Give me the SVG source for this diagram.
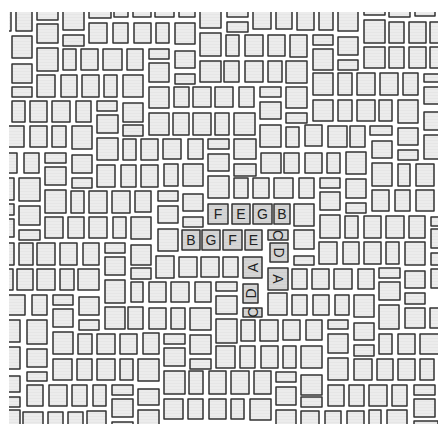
<svg xmlns="http://www.w3.org/2000/svg" width="438" height="424" viewBox="0 0 438 424">
<defs>
<pattern id="hatch" width="7" height="3" patternUnits="userSpaceOnUse"><rect width="7" height="3" fill="#ececec"/><rect y="2" width="7" height="1" fill="#e6e6e6"/></pattern>
<pattern id="hatchd" width="7" height="3" patternUnits="userSpaceOnUse"><rect width="7" height="3" fill="#d5d5d5"/><rect y="2" width="7" height="1" fill="#cfcfcf"/></pattern>
<clipPath id="clip"><rect x="9" y="12" width="429" height="412"/></clipPath>
</defs>
<style>
rect.b{fill:url(#hatch);stroke:#333;stroke-width:1.5;stroke-linejoin:round}
rect.l{fill:url(#hatchd);stroke:#333;stroke-width:1.5;stroke-linejoin:round}
text{font-family:"Liberation Sans",Arial,sans-serif;font-size:14px;fill:#222;text-anchor:middle;dominant-baseline:central}
</style>
<rect width="438" height="424" fill="#ffffff"/>
<g clip-path="url(#clip)">
<g id="tiles">
<rect class="b" x="3" y="6" width="8" height="25"/><rect class="b" x="16" y="6" width="16" height="25"/><rect class="b" x="37" y="6" width="21" height="14"/><rect class="b" x="63" y="6" width="21" height="24"/><rect class="b" x="89" y="6" width="22" height="12"/><rect class="b" x="114" y="6" width="14" height="11"/><rect class="b" x="133" y="6" width="18" height="11"/>
<rect class="b" x="37" y="24" width="21" height="19"/><rect class="b" x="63" y="35" width="21" height="11"/><rect class="b" x="89" y="23" width="18" height="20"/><rect class="b" x="113" y="23" width="15" height="20"/><rect class="b" x="134" y="23" width="17" height="20"/><rect class="b" x="12" y="36" width="20" height="22"/>
<rect class="b" x="37" y="48" width="21" height="23"/><rect class="b" x="63" y="49" width="13" height="21"/><rect class="b" x="81" y="49" width="17" height="21"/><rect class="b" x="103" y="49" width="19" height="21"/><rect class="b" x="127" y="49" width="16" height="21"/><rect class="b" x="12" y="64" width="20" height="19"/>
<rect class="b" x="12" y="87" width="20" height="10"/><rect class="b" x="37" y="75" width="18" height="22"/><rect class="b" x="61" y="75" width="16" height="22"/><rect class="b" x="82" y="75" width="17" height="22"/><rect class="b" x="104" y="75" width="13" height="22"/><rect class="b" x="123" y="75" width="20" height="22"/>
<rect class="b" x="12" y="101" width="13" height="21"/><rect class="b" x="30" y="101" width="17" height="21"/><rect class="b" x="52" y="101" width="18" height="21"/><rect class="b" x="76" y="101" width="15" height="21"/><rect class="b" x="97" y="101" width="20" height="10"/><rect class="b" x="97" y="115" width="21" height="18"/><rect class="b" x="123" y="103" width="20" height="19"/>
<rect class="b" x="3" y="126" width="21" height="21"/><rect class="b" x="30" y="126" width="17" height="21"/><rect class="b" x="52" y="126" width="14" height="21"/><rect class="b" x="72" y="126" width="20" height="23"/><rect class="b" x="123" y="125" width="20" height="11"/><rect class="b" x="97" y="138" width="21" height="22"/><rect class="b" x="123" y="139" width="13" height="21"/><rect class="b" x="141" y="139" width="17" height="21"/>
<rect class="b" x="155" y="6" width="19" height="11"/><rect class="b" x="179" y="6" width="16" height="11"/><rect class="b" x="200" y="6" width="21" height="22"/><rect class="b" x="227" y="6" width="21" height="11"/><rect class="b" x="227" y="22" width="21" height="10"/><rect class="b" x="253" y="6" width="18" height="23"/><rect class="b" x="276" y="6" width="16" height="23"/>
<rect class="b" x="156" y="23" width="13" height="20"/><rect class="b" x="175" y="23" width="20" height="21"/><rect class="b" x="200" y="33" width="21" height="23"/><rect class="b" x="226" y="35" width="13" height="21"/><rect class="b" x="245" y="35" width="18" height="21"/><rect class="b" x="268" y="35" width="17" height="21"/><rect class="b" x="290" y="35" width="17" height="22"/>
<rect class="b" x="149" y="49" width="20" height="10"/><rect class="b" x="149" y="63" width="20" height="19"/><rect class="b" x="175" y="51" width="20" height="17"/><rect class="b" x="175" y="74" width="20" height="10"/><rect class="b" x="200" y="61" width="21" height="21"/><rect class="b" x="224" y="61" width="15" height="21"/><rect class="b" x="245" y="61" width="18" height="21"/><rect class="b" x="268" y="61" width="14" height="21"/><rect class="b" x="286" y="61" width="21" height="22"/>
<rect class="b" x="149" y="87" width="20" height="21"/><rect class="b" x="174" y="87" width="15" height="20"/><rect class="b" x="193" y="87" width="18" height="20"/><rect class="b" x="215" y="87" width="18" height="20"/><rect class="b" x="239" y="87" width="15" height="20"/><rect class="b" x="260" y="87" width="21" height="10"/><rect class="b" x="260" y="102" width="21" height="17"/><rect class="b" x="286" y="87" width="21" height="21"/>
<rect class="b" x="149" y="113" width="20" height="22"/><rect class="b" x="173" y="113" width="16" height="22"/><rect class="b" x="193" y="113" width="18" height="22"/><rect class="b" x="215" y="113" width="14" height="22"/><rect class="b" x="234" y="113" width="21" height="22"/><rect class="b" x="260" y="125" width="21" height="22"/><rect class="b" x="286" y="113" width="21" height="10"/><rect class="b" x="286" y="127" width="13" height="20"/>
<rect class="b" x="297" y="6" width="17" height="24"/><rect class="b" x="319" y="6" width="14" height="24"/><rect class="b" x="338" y="6" width="20" height="25"/><rect class="b" x="364" y="6" width="21" height="9"/><rect class="b" x="389" y="6" width="21" height="11"/><rect class="b" x="415" y="6" width="20" height="10"/>
<rect class="b" x="313" y="35" width="20" height="10"/><rect class="b" x="313" y="49" width="20" height="21"/><rect class="b" x="338" y="37" width="20" height="18"/><rect class="b" x="338" y="60" width="20" height="10"/><rect class="b" x="364" y="20" width="21" height="23"/><rect class="b" x="389" y="22" width="15" height="21"/><rect class="b" x="409" y="22" width="17" height="21"/><rect class="b" x="430" y="22" width="12" height="21"/>
<rect class="b" x="364" y="47" width="21" height="21"/><rect class="b" x="389" y="47" width="15" height="21"/><rect class="b" x="409" y="47" width="17" height="21"/><rect class="b" x="430" y="47" width="12" height="21"/>
<rect class="b" x="313" y="73" width="20" height="22"/><rect class="b" x="338" y="73" width="14" height="22"/><rect class="b" x="357" y="73" width="18" height="22"/><rect class="b" x="380" y="73" width="18" height="22"/><rect class="b" x="403" y="73" width="15" height="22"/><rect class="b" x="424" y="74" width="18" height="8"/><rect class="b" x="424" y="87" width="18" height="17"/>
<rect class="b" x="313" y="100" width="20" height="21"/><rect class="b" x="338" y="100" width="14" height="21"/><rect class="b" x="357" y="100" width="18" height="21"/><rect class="b" x="379" y="100" width="13" height="21"/><rect class="b" x="398" y="100" width="20" height="23"/><rect class="b" x="424" y="112" width="18" height="18"/>
<rect class="b" x="305" y="125" width="17" height="21"/><rect class="b" x="328" y="126" width="19" height="21"/><rect class="b" x="350" y="126" width="15" height="21"/><rect class="b" x="370" y="126" width="22" height="9"/><rect class="b" x="372" y="141" width="20" height="17"/><rect class="b" x="398" y="128" width="20" height="17"/><rect class="b" x="424" y="135" width="18" height="24"/>
<rect class="b" x="305" y="153" width="17" height="20"/><rect class="b" x="327" y="153" width="13" height="20"/><rect class="b" x="346" y="152" width="20" height="22"/><rect class="b" x="372" y="163" width="20" height="23"/><rect class="b" x="398" y="150" width="20" height="10"/><rect class="b" x="398" y="164" width="12" height="22"/><rect class="b" x="416" y="164" width="18" height="22"/>
<rect class="b" x="299" y="178" width="15" height="20"/><rect class="b" x="320" y="178" width="20" height="10"/><rect class="b" x="320" y="192" width="20" height="18"/><rect class="b" x="346" y="179" width="20" height="19"/><rect class="b" x="346" y="203" width="20" height="10"/><rect class="b" x="372" y="190" width="17" height="21"/><rect class="b" x="395" y="190" width="15" height="21"/><rect class="b" x="416" y="190" width="18" height="21"/>
<rect class="b" x="294" y="204" width="20" height="22"/><rect class="b" x="320" y="215" width="20" height="23"/><rect class="b" x="345" y="216" width="13" height="22"/><rect class="b" x="364" y="216" width="17" height="22"/><rect class="b" x="386" y="216" width="18" height="22"/><rect class="b" x="409" y="216" width="16" height="22"/><rect class="b" x="431" y="217" width="11" height="9"/><rect class="b" x="431" y="229" width="11" height="19"/>
<rect class="b" x="294" y="230" width="20" height="19"/><rect class="b" x="294" y="256" width="20" height="9"/><rect class="b" x="319" y="242" width="18" height="22"/><rect class="b" x="343" y="242" width="16" height="22"/><rect class="b" x="364" y="242" width="17" height="22"/><rect class="b" x="386" y="242" width="13" height="22"/><rect class="b" x="405" y="242" width="20" height="23"/><rect class="b" x="431" y="253" width="11" height="12"/>
<rect class="b" x="292" y="269" width="15" height="20"/><rect class="b" x="312" y="269" width="17" height="20"/><rect class="b" x="334" y="269" width="18" height="20"/><rect class="b" x="358" y="269" width="16" height="20"/><rect class="b" x="379" y="268" width="21" height="10"/><rect class="b" x="405" y="271" width="20" height="17"/><rect class="b" x="431" y="269" width="11" height="19"/>
<rect class="b" x="163" y="139" width="18" height="20"/><rect class="b" x="188" y="139" width="15" height="20"/><rect class="b" x="208" y="139" width="21" height="10"/><rect class="b" x="234" y="139" width="22" height="20"/><rect class="b" x="208" y="154" width="21" height="17"/><rect class="b" x="234" y="164" width="22" height="12"/><rect class="b" x="261" y="153" width="20" height="20"/><rect class="b" x="284" y="153" width="15" height="20"/>
<rect class="b" x="141" y="165" width="17" height="22"/><rect class="b" x="164" y="164" width="14" height="22"/><rect class="b" x="183" y="164" width="20" height="22"/><rect class="b" x="208" y="176" width="21" height="22"/><rect class="b" x="234" y="178" width="14" height="20"/><rect class="b" x="253" y="178" width="16" height="20"/><rect class="b" x="274" y="178" width="19" height="20"/>
<rect class="b" x="135" y="191" width="16" height="21"/><rect class="b" x="158" y="191" width="20" height="10"/><rect class="b" x="158" y="206" width="20" height="17"/><rect class="b" x="183" y="194" width="20" height="17"/><rect class="b" x="183" y="217" width="20" height="10"/>
<rect class="b" x="131" y="217" width="20" height="22"/><rect class="b" x="158" y="229" width="20" height="22"/><rect class="b" x="131" y="245" width="20" height="20"/><rect class="b" x="156" y="256" width="18" height="22"/><rect class="b" x="179" y="257" width="18" height="20"/><rect class="b" x="201" y="257" width="18" height="20"/><rect class="b" x="223" y="257" width="15" height="20"/><rect class="b" x="131" y="268" width="20" height="11"/>
<rect class="b" x="3" y="153" width="14" height="20"/><rect class="b" x="24" y="153" width="15" height="20"/><rect class="b" x="45" y="153" width="21" height="10"/><rect class="b" x="45" y="167" width="21" height="18"/><rect class="b" x="72" y="155" width="20" height="18"/><rect class="b" x="72" y="178" width="20" height="10"/><rect class="b" x="97" y="165" width="18" height="22"/><rect class="b" x="121" y="165" width="15" height="22"/>
<rect class="b" x="3" y="178" width="11" height="22"/><rect class="b" x="19" y="178" width="21" height="23"/><rect class="b" x="45" y="190" width="21" height="23"/><rect class="b" x="71" y="191" width="13" height="22"/><rect class="b" x="89" y="191" width="18" height="22"/><rect class="b" x="112" y="191" width="18" height="22"/>
<rect class="b" x="3" y="204" width="11" height="11"/><rect class="b" x="19" y="206" width="21" height="19"/><rect class="b" x="3" y="219" width="11" height="18"/><rect class="b" x="19" y="230" width="21" height="10"/><rect class="b" x="45" y="217" width="18" height="21"/><rect class="b" x="68" y="217" width="16" height="21"/><rect class="b" x="89" y="217" width="18" height="21"/><rect class="b" x="113" y="217" width="13" height="21"/>
<rect class="b" x="3" y="243" width="11" height="22"/><rect class="b" x="19" y="243" width="14" height="22"/><rect class="b" x="37" y="243" width="18" height="22"/><rect class="b" x="60" y="243" width="17" height="22"/><rect class="b" x="83" y="243" width="16" height="22"/><rect class="b" x="105" y="243" width="20" height="10"/><rect class="b" x="105" y="257" width="20" height="18"/>
<rect class="b" x="3" y="269" width="10" height="21"/><rect class="b" x="17" y="269" width="16" height="21"/><rect class="b" x="37" y="269" width="18" height="21"/><rect class="b" x="60" y="269" width="14" height="21"/><rect class="b" x="78" y="269" width="21" height="21"/><rect class="b" x="105" y="280" width="20" height="23"/><rect class="b" x="131" y="282" width="12" height="20"/>
<rect class="b" x="3" y="295" width="22" height="20"/><rect class="b" x="32" y="295" width="15" height="20"/><rect class="b" x="53" y="295" width="20" height="10"/><rect class="b" x="53" y="309" width="20" height="18"/><rect class="b" x="79" y="297" width="20" height="18"/><rect class="b" x="79" y="320" width="20" height="10"/><rect class="b" x="105" y="307" width="20" height="22"/><rect class="b" x="128" y="307" width="15" height="22"/>
<rect class="b" x="3" y="320" width="17" height="22"/><rect class="b" x="27" y="320" width="20" height="24"/><rect class="b" x="53" y="332" width="20" height="22"/><rect class="b" x="78" y="334" width="14" height="20"/><rect class="b" x="97" y="334" width="18" height="20"/><rect class="b" x="120" y="334" width="17" height="20"/><rect class="b" x="143" y="333" width="16" height="21"/>
<rect class="b" x="3" y="347" width="17" height="22"/><rect class="b" x="27" y="349" width="20" height="18"/><rect class="b" x="27" y="372" width="20" height="9"/><rect class="b" x="53" y="359" width="19" height="21"/><rect class="b" x="77" y="359" width="15" height="21"/><rect class="b" x="97" y="359" width="18" height="21"/><rect class="b" x="120" y="359" width="13" height="21"/><rect class="b" x="138" y="359" width="21" height="22"/>
<rect class="b" x="3" y="376" width="17" height="16"/><rect class="b" x="3" y="397" width="17" height="10"/><rect class="b" x="27" y="385" width="16" height="21"/><rect class="b" x="49" y="385" width="18" height="21"/><rect class="b" x="72" y="385" width="15" height="21"/><rect class="b" x="93" y="385" width="13" height="21"/><rect class="b" x="112" y="385" width="21" height="10"/><rect class="b" x="112" y="399" width="21" height="18"/><rect class="b" x="138" y="389" width="21" height="16"/>
<rect class="b" x="3" y="410" width="17" height="20"/><rect class="b" x="23" y="412" width="20" height="18"/><rect class="b" x="48" y="412" width="15" height="18"/><rect class="b" x="68" y="412" width="15" height="18"/><rect class="b" x="87" y="411" width="19" height="19"/><rect class="b" x="112" y="422" width="21" height="8"/><rect class="b" x="138" y="410" width="21" height="20"/>
<rect class="b" x="149" y="282" width="17" height="20"/><rect class="b" x="171" y="282" width="18" height="20"/><rect class="b" x="195" y="282" width="16" height="20"/><rect class="b" x="216" y="282" width="21" height="9"/><rect class="b" x="216" y="296" width="21" height="18"/><rect class="b" x="268" y="293" width="19" height="22"/>
<rect class="b" x="149" y="308" width="17" height="21"/><rect class="b" x="171" y="308" width="14" height="21"/><rect class="b" x="190" y="308" width="21" height="22"/><rect class="b" x="164" y="334" width="21" height="10"/><rect class="b" x="164" y="348" width="21" height="18"/><rect class="b" x="190" y="335" width="21" height="19"/><rect class="b" x="190" y="359" width="21" height="10"/>
<rect class="b" x="216" y="319" width="21" height="24"/><rect class="b" x="241" y="320" width="14" height="21"/><rect class="b" x="260" y="320" width="18" height="21"/><rect class="b" x="283" y="320" width="17" height="20"/><rect class="b" x="216" y="346" width="19" height="22"/><rect class="b" x="240" y="346" width="15" height="22"/><rect class="b" x="261" y="346" width="17" height="22"/><rect class="b" x="283" y="346" width="13" height="22"/>
<rect class="b" x="164" y="371" width="21" height="23"/><rect class="b" x="189" y="371" width="14" height="23"/><rect class="b" x="209" y="371" width="17" height="23"/><rect class="b" x="231" y="371" width="18" height="23"/><rect class="b" x="254" y="371" width="17" height="23"/><rect class="b" x="276" y="372" width="20" height="10"/><rect class="b" x="276" y="387" width="20" height="18"/>
<rect class="b" x="164" y="399" width="19" height="20"/><rect class="b" x="188" y="399" width="15" height="20"/><rect class="b" x="209" y="399" width="17" height="20"/><rect class="b" x="231" y="399" width="13" height="20"/><rect class="b" x="250" y="399" width="21" height="21"/><rect class="b" x="276" y="410" width="20" height="20"/>
<rect class="b" x="379" y="282" width="21" height="18"/><rect class="b" x="292" y="295" width="15" height="20"/><rect class="b" x="313" y="295" width="16" height="20"/><rect class="b" x="335" y="295" width="14" height="20"/><rect class="b" x="354" y="295" width="20" height="22"/><rect class="b" x="379" y="305" width="20" height="24"/><rect class="b" x="405" y="293" width="20" height="11"/><rect class="b" x="405" y="308" width="20" height="20"/><rect class="b" x="430" y="308" width="12" height="20"/>
<rect class="b" x="306" y="320" width="16" height="20"/><rect class="b" x="328" y="320" width="20" height="9"/><rect class="b" x="328" y="334" width="20" height="19"/><rect class="b" x="354" y="323" width="20" height="17"/><rect class="b" x="354" y="345" width="20" height="11"/><rect class="b" x="379" y="334" width="13" height="20"/><rect class="b" x="398" y="334" width="17" height="20"/><rect class="b" x="420" y="334" width="22" height="20"/>
<rect class="b" x="301" y="346" width="21" height="22"/><rect class="b" x="328" y="358" width="20" height="22"/><rect class="b" x="354" y="359" width="18" height="21"/><rect class="b" x="377" y="359" width="16" height="21"/><rect class="b" x="398" y="359" width="17" height="21"/><rect class="b" x="420" y="359" width="14" height="21"/>
<rect class="b" x="301" y="375" width="21" height="20"/><rect class="b" x="301" y="397" width="21" height="10"/><rect class="b" x="328" y="385" width="16" height="21"/><rect class="b" x="349" y="385" width="15" height="21"/><rect class="b" x="369" y="385" width="18" height="21"/><rect class="b" x="392" y="385" width="15" height="21"/><rect class="b" x="414" y="385" width="21" height="10"/><rect class="b" x="414" y="399" width="21" height="18"/>
<rect class="b" x="301" y="411" width="18" height="19"/><rect class="b" x="325" y="411" width="16" height="19"/><rect class="b" x="347" y="411" width="17" height="19"/><rect class="b" x="369" y="410" width="12" height="20"/><rect class="b" x="387" y="410" width="20" height="20"/><rect class="b" x="414" y="421" width="24" height="9"/>
</g>
<g id="word-FEGB">
<g id="tile-F1"><rect class="l" x="208" y="204" width="20" height="20"/><text x="218" y="214">F</text></g>
<g id="tile-E1"><rect class="l" x="232" y="204" width="18" height="20"/><text x="241" y="214">E</text></g>
<g id="tile-G1"><rect class="l" x="253" y="204" width="19" height="20"/><text x="262.5" y="214">G</text></g>
<g id="tile-B1"><rect class="l" x="274" y="204" width="16" height="20"/><text x="282" y="214">B</text></g>
</g>
<g id="word-BGFE">
<g id="tile-B2"><rect class="l" x="182" y="230" width="18" height="20"/><text x="191" y="240">B</text></g>
<g id="tile-G2"><rect class="l" x="202" y="230" width="18" height="20"/><text x="211" y="240">G</text></g>
<g id="tile-F2"><rect class="l" x="223" y="230" width="19" height="20"/><text x="232.5" y="240">F</text></g>
<g id="tile-E2"><rect class="l" x="245" y="230" width="17" height="20"/><text x="253.5" y="240">E</text></g>
</g>
<g id="word-CDA-down">
<g id="tile-C1"><rect class="l" x="268" y="230" width="20" height="10"/><text transform="translate(278 235) rotate(90)">C</text></g>
<g id="tile-D1"><rect class="l" x="270" y="243" width="18" height="19"/><text transform="translate(279 252.5) rotate(90)">D</text></g>
<g id="tile-A1"><rect class="l" x="268" y="268" width="20" height="22"/><text transform="translate(278 279) rotate(90)">A</text></g>
</g>
<g id="word-CDA-up">
<g id="tile-A2"><rect class="l" x="243" y="257" width="19" height="21"/><text transform="translate(252.5 267.5) rotate(-90)">A</text></g>
<g id="tile-D2"><rect class="l" x="243" y="284" width="15" height="19"/><text transform="translate(250.5 293.5) rotate(-90)">D</text></g>
<g id="tile-C2"><rect class="l" x="243" y="308" width="19" height="9"/><text transform="translate(252.5 312.5) rotate(-90)">C</text></g>
</g>
</g>
</svg>
